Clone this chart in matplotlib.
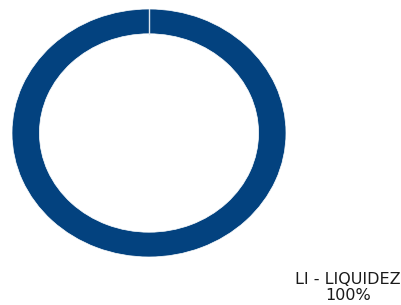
import matplotlib
matplotlib.use('Agg')
import matplotlib.pyplot as plt
import numpy as np

# data
labels = ['LI - LIQUIDEZ']
values = [100]
colors = ['#03427f']
start = 90

fig = plt.figure(figsize=(4.01, 3.05), dpi=100)
ax = fig.add_axes([12/401, 48/305, 274/401, 248/305])

ax.pie(values, colors=colors, startangle=start, counterclock=False,
       radius=1.0, wedgeprops=dict(width=0.2, edgecolor='white', linewidth=0.5))
# full-circle wedge draws no radial seam, add it
a = np.deg2rad(start)
ax.plot([0.8*np.cos(a), np.cos(a)], [0.8*np.sin(a), np.sin(a)], color='#dfe6ee', lw=1.0)
ax.set_aspect('auto')
ax.set_xlim(-1, 1)
ax.set_ylim(-1, 1)
ax.axis('off')

# label under the ring
fig.text(348/401, 1 - 279/305, labels[0], ha='center', va='center',
         fontsize=11.5, color='#1a1a1a')
fig.text(348/401, 1 - 295/305, '%d%%' % values[0], ha='center', va='center',
         fontsize=11.5, color='#1a1a1a')

fig.savefig('out.png', dpi=100)
